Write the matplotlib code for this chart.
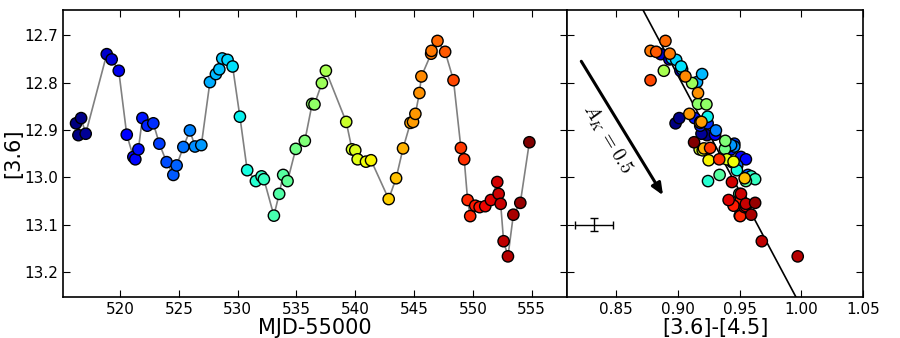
import numpy as np
import matplotlib
matplotlib.use("Agg")
import matplotlib.pyplot as plt

plt.rcParams['font.family'] = ['Liberation Sans Narrow', 'DejaVu Sans']

# light curve: MJD-55000, [3.6] magnitude, [3.6]-[4.5] colour
mjd = [516.26, 516.46, 516.69, 517.08, 518.87, 519.29, 519.89, 520.57, 521.13, 521.30,
       521.56, 521.90, 522.32, 522.83, 523.34, 523.96, 524.53, 524.81, 525.38, 525.94,
       526.37, 526.91, 527.64, 528.15, 528.44, 528.69, 529.14, 529.57, 530.19, 530.81,
       531.55, 532.03, 532.23, 533.08, 533.53, 533.87, 534.24, 534.94, 535.71, 536.33,
       536.53, 537.16, 537.50, 539.23, 539.72, 540.00, 540.20, 540.91, 541.34, 542.84,
       543.47, 544.06, 544.69, 544.91, 545.11, 545.45, 545.62, 546.45, 546.48, 546.99,
       547.64, 548.35, 548.98, 549.26, 549.55, 549.77, 550.20, 550.57, 551.05, 551.53,
       552.07, 552.19, 552.36, 552.61, 552.98, 553.44, 554.03, 554.80]
mag36 = [12.886, 12.911, 12.875, 12.908, 12.740, 12.751, 12.775, 12.910, 12.957, 12.962,
         12.941, 12.875, 12.891, 12.886, 12.929, 12.968, 12.995, 12.975, 12.936, 12.901,
         12.935, 12.932, 12.799, 12.782, 12.772, 12.749, 12.752, 12.766, 12.872, 12.985,
         13.008, 12.998, 13.004, 13.081, 13.035, 12.995, 13.008, 12.940, 12.923, 12.845,
         12.846, 12.801, 12.775, 12.883, 12.941, 12.943, 12.962, 12.967, 12.964, 13.046,
         13.002, 12.939, 12.885, 12.883, 12.866, 12.822, 12.787, 12.739, 12.733, 12.712,
         12.735, 12.795, 12.938, 12.962, 13.048, 13.082, 13.060, 13.063, 13.061, 13.048,
         13.010, 13.035, 13.056, 13.135, 13.167, 13.079, 13.054, 12.926]
col = [0.898, 0.9235, 0.901, 0.919, 0.886, 0.893, 0.902, 0.930, 0.951, 0.955,
       0.943, 0.9135, 0.918, 0.924, 0.9456, 0.944, 0.9566, 0.948, 0.9396, 0.9307,
       0.9456, 0.943, 0.9154, 0.9195, 0.9033, 0.895, 0.8985, 0.9025, 0.924, 0.9477,
       0.9243, 0.9593, 0.9625, 0.950, 0.9496, 0.9337, 0.955, 0.938, 0.9383, 0.9162,
       0.923, 0.9114, 0.8885, 0.918, 0.9175, 0.920, 0.9396, 0.945, 0.9248, 0.951,
       0.954, 0.921, 0.918, 0.919, 0.9092, 0.9162, 0.906, 0.8933, 0.8777, 0.8898,
       0.8823, 0.8777, 0.926, 0.9334, 0.951, 0.9504, 0.945, 0.954, 0.955, 0.941,
       0.9437, 0.951, 0.955, 0.9679, 0.997, 0.9593, 0.9625, 0.913]

# fitted colour-magnitude line: mag = slope*colour + intercept
slope, intercept = 4.89, 8.3845
# reddening vector for A_K = 0.5
vec_start = (0.8204, 12.750)
vec_end = (0.889, 13.043)
# typical error bar
err_pos = (0.832, 13.10)
err_x, err_y = 0.0155, 0.013

fig = plt.figure(figsize=(9, 3.38), dpi=100)
ax1 = fig.add_axes([0.07, 0.121, 0.56, 0.849])
ax2 = fig.add_axes([0.63, 0.121, 0.329, 0.849], sharey=ax1)

ax1.plot(mjd, mag36, color='gray', lw=1.2, zorder=1)
ax1.scatter(mjd, mag36, c=mjd, cmap='jet', s=66, edgecolors='k', linewidths=1, zorder=2)
ax1.set_xlim(515.15, 558.0)
ax1.set_ylim(13.253, 12.647)
ax1.set_xticks([520, 525, 530, 535, 540, 545, 550, 555])
ax1.set_yticks([12.7, 12.8, 12.9, 13.0, 13.1, 13.2])
ax1.set_xlabel('MJD-55000', fontsize=15, labelpad=1)
ax1.set_ylabel('[3.6]', fontsize=15, labelpad=1)

ax2.scatter(col, mag36, c=mjd, cmap='jet', s=66, edgecolors='k', linewidths=1, zorder=2)
xl = np.array([0.80, 1.05])
ax2.plot(xl, slope * xl + intercept, color='k', lw=1.2, zorder=1)
ax2.annotate('', xy=vec_end, xytext=vec_start,
             arrowprops=dict(arrowstyle='-|>,head_length=0.7,head_width=0.3', lw=2.2, color='k'))
ax2.text(0.8425, 12.918, r'$A_K\,=0.5$', rotation=-59, fontsize=14,
         math_fontfamily='cm', ha='center', va='center')
ax2.errorbar([err_pos[0]], [err_pos[1]], xerr=err_x, yerr=err_y, color='k',
             lw=1, capsize=3, fmt='none')
ax2.set_xlim(0.81, 1.05)
ax2.set_xticks([0.85, 0.90, 0.95, 1.00, 1.05])
ax2.set_xticklabels(['0.85', '0.90', '0.95', '1.00', '1.05'])
ax2.set_xlabel('[3.6]-[4.5]', fontsize=15, labelpad=1)
plt.setp(ax2.get_yticklabels(), visible=False)

for ax in (ax1, ax2):
    ax.tick_params(direction='in', top=True, right=True, length=5, labelsize=11)
    for sp in ax.spines.values():
        sp.set_linewidth(1.2)

fig.savefig('out.png', dpi=100)
